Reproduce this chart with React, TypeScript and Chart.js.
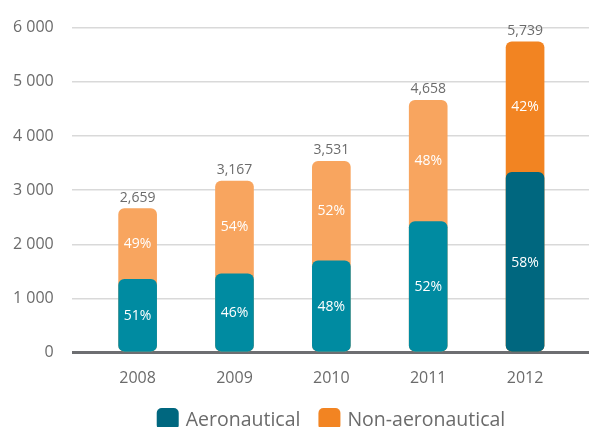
import React, { useEffect, useRef } from "react";
import { Chart, registerables } from "chart.js";

Chart.register(...registerables);

const years = ["2008", "2009", "2010", "2011", "2012"];
const totals = [2659, 3167, 3531, 4658, 5739];
const aeronautical = [1356, 1457, 1695, 2422, 3329];
const aeroPct = ["51%", "46%", "48%", "52%", "58%"];
const nonAeroPct = ["49%", "54%", "52%", "48%", "42%"];
const totalLabels = ["2,659", "3,167", "3,531", "4,658", "5,739"];
const seriesNames = ["Aeronautical", "Non-aeronautical"];

const FONT = "'Open Sans', 'Noto Sans', sans-serif";
const TEXT = "#6b6b6b";
const TEAL = "#008ba1";
const TEAL_DARK = "#00677f";
const ORANGE = "#f8a55f";
const ORANGE_DARK = "#f28422";

const tealColors = years.map((_, i) => (i === years.length - 1 ? TEAL_DARK : TEAL));
const orangeColors = years.map((_, i) => (i === years.length - 1 ? ORANGE_DARK : ORANGE));

const labelPlugin = {
  id: "valueLabels",
  afterDatasetsDraw(chart: any) {
    const ctx = chart.ctx;
    const xs = chart.scales.x;
    const ys = chart.scales.y;
    ctx.save();
    ctx.textAlign = "center";
    ctx.textBaseline = "middle";
    ctx.font = `14px ${FONT}`;
    years.forEach((_, i) => {
      const x = xs.getPixelForValue(i);
      const y0 = ys.getPixelForValue(0);
      const ya = ys.getPixelForValue(aeronautical[i]);
      const yt = ys.getPixelForValue(totals[i]);
      ctx.fillStyle = "#ffffff";
      ctx.fillText(aeroPct[i], x, (y0 + ya) / 2);
      ctx.fillText(nonAeroPct[i], x, (ya + yt) / 2);
      ctx.fillStyle = TEXT;
      ctx.fillText(totalLabels[i], x, yt - 11);
    });
    ctx.restore();
  },
};

const legendPlugin = {
  id: "bottomLegend",
  afterDraw(chart: any) {
    const ctx = chart.ctx;
    ctx.save();
    ctx.font = `19.5px ${FONT}`;
    ctx.textBaseline = "alphabetic";
    ctx.textAlign = "left";
    const colors = [TEAL_DARK, ORANGE_DARK];
    const box = 22;
    const gapBoxText = 7;
    const gapItems = 18;
    const widths = seriesNames.map((n) => box + gapBoxText + ctx.measureText(n).width);
    const total = widths.reduce((a, b) => a + b, 0) + gapItems;
    let x = 331 - total / 2;
    const top = 408;
    seriesNames.forEach((n, i) => {
      ctx.fillStyle = colors[i];
      ctx.beginPath();
      (ctx as any).roundRect(x, top, box, box, 5);
      ctx.fill();
      ctx.fillStyle = TEXT;
      ctx.fillText(n, x + box + gapBoxText, 426);
      x += widths[i] + gapItems;
    });
    ctx.restore();
  },
};

export default function App() {
  const ref = useRef<HTMLCanvasElement>(null);
  useEffect(() => {
    if (!ref.current) return;
    const chart = new Chart(ref.current, {
      type: "bar",
      data: {
        datasets: [
          {
            label: seriesNames[0],
            data: years.map((_, i) => ({ x: i, y: aeronautical[i] })),
            backgroundColor: tealColors,
            borderRadius: 6,
            borderSkipped: false,
            grouped: false,
            barThickness: 38,
            order: 0,
          } as any,
          {
            label: seriesNames[1],
            data: years.map((_, i) => ({ x: i, y: totals[i] })),
            backgroundColor: orangeColors,
            borderRadius: 6,
            borderSkipped: false,
            grouped: false,
            barThickness: 38,
            order: 1,
          } as any,
        ],
      },
      options: {
        animation: false,
        responsive: true,
        maintainAspectRatio: false,
        layout: { padding: { left: -5, right: 0, top: 15, bottom: 23 } },
        plugins: { legend: { display: false }, tooltip: { enabled: false } },
        scales: {
          x: {
            type: "linear",
            offset: false,
            min: -0.68,
            max: 4.66,
            afterBuildTicks: (s: any) => {
              s.ticks = years.map((_, i) => ({ value: i }));
            },
            grid: { display: false, drawTicks: false },
            border: { display: false },
            ticks: {
              padding: 16,
              color: TEXT,
              font: { family: FONT, size: 16 },
              callback: (v: any) => years[v] ?? "",
            },
          },
          y: {
            min: 0,
            max: 6000,
            grid: {
              drawTicks: false,
              color: (c: any) => (c.tick && c.tick.value === 0 ? "#6d6e71" : "#d9d9d9"),
              lineWidth: (c: any) => (c.tick && c.tick.value === 0 ? 3 : 1.5),
            },
            border: { display: false },
            ticks: {
              stepSize: 1000,
              padding: 18,
              color: TEXT,
              font: { family: FONT, size: 16 },
              callback: (v: any) => String(v).replace(/\B(?=(\d{3})+(?!\d))/g, " "),
            },
          },
        },
      },
      plugins: [labelPlugin, legendPlugin],
    });
    return () => chart.destroy();
  }, []);
  return (
    <div style={{ position: "absolute", left: 0, top: 0, width: 589, height: 427 }}>
      <canvas ref={ref} />
    </div>
  );
}
